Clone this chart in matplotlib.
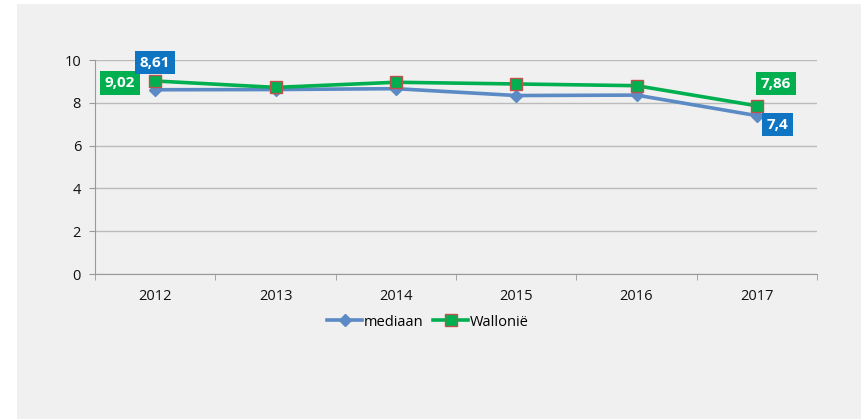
import matplotlib.pyplot as plt
from matplotlib.patches import Rectangle

# data
years = ["2012", "2013", "2014", "2015", "2016", "2017"]
mediaan = [8.61, 8.62, 8.66, 8.34, 8.36, 7.4]
wallonie = [9.02, 8.72, 8.96, 8.88, 8.80, 7.86]

blue_line = "#5b8ac5"
blue_box = "#0f75c2"
green = "#00b050"
bg = "#f0f0f0"

plt.rcParams['font.family'] = ['Open Sans', 'DejaVu Sans']

fig = plt.figure(figsize=(8.61, 4.19), dpi=100, facecolor="white")
# grey page behind the chart, with a thin white margin left and top
fig.patches.append(Rectangle((17 / 861, 0), 1, 1 - 4 / 419, transform=fig.transFigure,
                             facecolor=bg, edgecolor="none", zorder=-10))
ax = fig.add_axes([95 / 861, 1 - 274 / 419, 722 / 861, 214 / 419])
ax.set_facecolor(bg)

x = list(range(len(years)))
ax.plot(x, mediaan, color=blue_line, lw=2.6, marker="D", ms=6,
        mfc=blue_line, mec=blue_line, label="mediaan", zorder=3)
ax.plot(x, wallonie, color=green, lw=2.6, marker="s", ms=8,
        mfc=green, mec="#c0504d", mew=1, label="Wallonië", zorder=4)

ax.set_xlim(-0.5, len(years) - 0.5)
ax.set_ylim(0, 10)
ax.set_yticks(range(0, 11, 2))
ax.set_xticks(x)
ax.set_xticklabels(years)
ax.set_xticks([i - 0.5 for i in range(len(years) + 1)], minor=True)
ax.tick_params(axis="x", which="major", length=0, pad=11, labelsize=10.5, colors="#111111")
ax.tick_params(axis="x", which="minor", length=4, color="#999999")
ax.tick_params(axis="y", length=4, color="#999999", labelsize=10.5, colors="#111111", pad=6)
ax.grid(axis="y", color="#bbbbbb", lw=1)
for s in ["top", "right"]:
    ax.spines[s].set_visible(False)
for s in ["left", "bottom"]:
    ax.spines[s].set_color("#999999")

def label(xi, yi, txt, color, dx, dy):
    ax.annotate(txt, (xi, yi), xytext=(dx, dy), textcoords="offset pixels",
                ha="center", va="center", color="white", fontsize=11, fontweight="bold",
                bbox=dict(boxstyle="square,pad=0.3", fc=color, ec="none"), zorder=5)

label(0, wallonie[0], "9,02", green, -35, -2)
label(0, mediaan[0], "8,61", blue_box, 0, 27)
label(5, wallonie[5], "7,86", green, 19, 22)
label(5, mediaan[5], "7,4", blue_box, 21, -9)

fig.legend(loc="center", bbox_to_anchor=(428 / 861, 1 - 322 / 419), ncol=2, frameon=False,
           fontsize=10.5, handlelength=2.4, columnspacing=0.7, handletextpad=0.1)

fig.savefig("out.png", dpi=100, facecolor=fig.get_facecolor())
